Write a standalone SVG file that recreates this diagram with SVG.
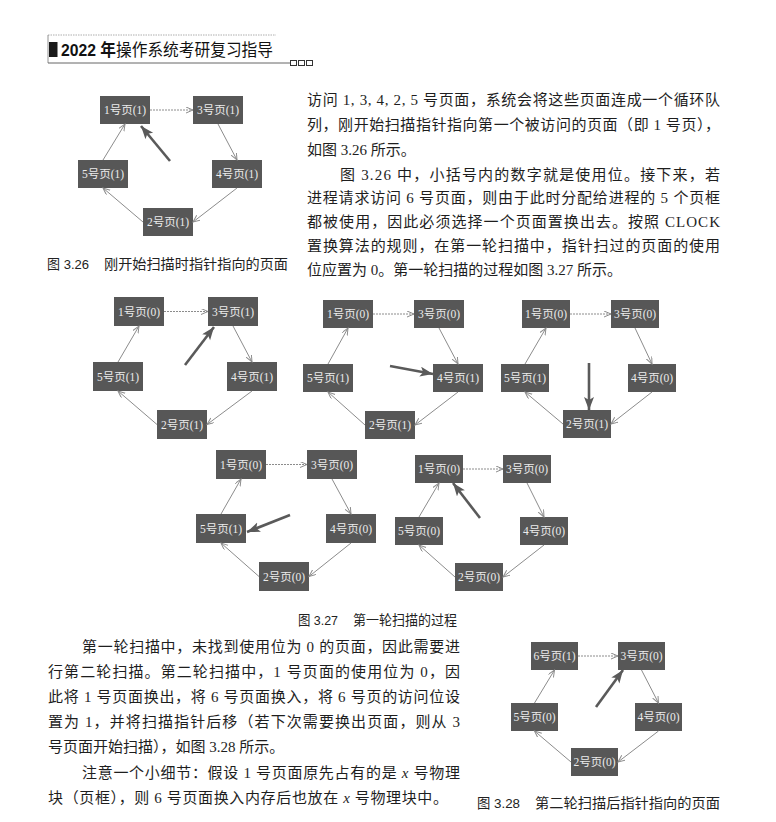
<svg xmlns="http://www.w3.org/2000/svg" width="776" height="822" viewBox="0 0 776 822">
<style>
.bg{fill:#ffffff}
.nd rect{fill:#575757}
.nd text{fill:#ececec;font-family:"Liberation Serif","Noto Sans CJK SC",serif;font-size:11.5px;text-anchor:middle}
.cn{stroke:#8c8c8c;stroke-width:1;fill:none;marker-end:url(#arr)}
.cn1{stroke-dasharray:2 1}
.ptr{stroke:#5a5a5a;stroke-width:2.6;fill:none;marker-end:url(#ptrh)}
.body{font-family:"Liberation Serif","Noto Sans CJK SC",serif;font-size:15px;fill:#1e1e1e}
.cap{font-family:"Liberation Sans","Noto Sans CJK SC",sans-serif;font-size:13.5px;fill:#222}
.hd{font-family:"Liberation Sans","Noto Sans CJK SC",sans-serif;font-size:16.5px;fill:#111}
</style>
<defs>
<marker id="arr" markerUnits="userSpaceOnUse" markerWidth="10" markerHeight="8" refX="7" refY="3" orient="auto">
<path d="M0,0 L7,3 L0,6" stroke="#8c8c8c" stroke-width="1" fill="none"/>
</marker>
<marker id="ptrh" markerUnits="userSpaceOnUse" markerWidth="16" markerHeight="12" refX="13" refY="5" orient="auto">
<path d="M0,0 L13,5 L0,10 L3,5 Z" fill="#5a5a5a"/>
</marker>
</defs>
<rect class="bg" x="0" y="0" width="776" height="822"/>

<!-- header -->
<g id="header">
<line x1="48" y1="35" x2="276" y2="35" stroke="#999" stroke-width="0.8" stroke-dasharray="1.5 1"/>
<line x1="48" y1="35" x2="48" y2="63" stroke="#777" stroke-width="0.8"/>
<line x1="48" y1="63" x2="290" y2="63" stroke="#555" stroke-width="0.9"/>
<rect x="49" y="42" width="8.5" height="15" fill="#1a1a1a"/>
<text class="hd" x="61" y="56" textLength="212" lengthAdjust="spacingAndGlyphs"><tspan font-weight="bold">2022 年</tspan>操作系统考研复习指导</text>
<rect x="290.5" y="60.5" width="6" height="5" fill="none" stroke="#333" stroke-width="1"/>
<rect x="298.5" y="60.5" width="6" height="5" fill="none" stroke="#333" stroke-width="1"/>
<rect x="306.5" y="60.5" width="6" height="5" fill="none" stroke="#333" stroke-width="1"/>
</g>

<!-- Figure 3.26 -->
<g id="fig326">
<g id="f326-n1" class="nd"><rect x="100" y="96" width="50" height="28"/><text x="125" y="114">1号页(1)</text></g>
<g id="f326-n3" class="nd"><rect x="193" y="96" width="50" height="28"/><text x="218" y="114">3号页(1)</text></g>
<g id="f326-n5" class="nd"><rect x="78" y="160" width="50" height="28"/><text x="103" y="178">5号页(1)</text></g>
<g id="f326-n4" class="nd"><rect x="212" y="160" width="50" height="28"/><text x="237" y="178">4号页(1)</text></g>
<g id="f326-n2" class="nd"><rect x="143" y="208" width="50" height="28"/><text x="168" y="226">2号页(1)</text></g>
<g id="f326-edges">
<line class="cn cn1" x1="150" y1="110" x2="193" y2="110"/>
<line class="cn" x1="218" y1="124" x2="237" y2="160"/>
<line class="cn" x1="237" y1="188" x2="193" y2="222"/>
<line class="cn" x1="143" y1="222" x2="103" y2="188"/>
<line class="cn" x1="103" y1="160" x2="125" y2="124"/>
<line class="ptr" x1="170" y1="161" x2="141" y2="126"/>
</g>
<text class="cap" y="269"><tspan x="47" textLength="42" lengthAdjust="spacingAndGlyphs">图 3.26</tspan><tspan x="104" textLength="184" lengthAdjust="spacingAndGlyphs">刚开始扫描时指针指向的页面</tspan></text>
</g>

<!-- right text block -->
<g id="text-top" class="body">
<text x="307" y="105" textLength="413" lengthAdjust="spacing">访问 1, 3, 4, 2, 5 号页面，系统会将这些页面连成一个循环队</text>
<text x="307" y="130" textLength="413" lengthAdjust="spacing">列，刚开始扫描指针指向第一个被访问的页面（即 1 号页），</text>
<text x="307" y="155">如图 3.26 所示。</text>
<text x="340" y="180" textLength="380" lengthAdjust="spacing">图 3.26 中，小括号内的数字就是使用位。接下来，若</text>
<text x="307" y="203" textLength="413" lengthAdjust="spacing">进程请求访问 6 号页面，则由于此时分配给进程的 5 个页框</text>
<text x="307" y="227" textLength="413" lengthAdjust="spacing">都被使用，因此必须选择一个页面置换出去。按照 CLOCK</text>
<text x="307" y="251" textLength="413" lengthAdjust="spacing">置换算法的规则，在第一轮扫描中，指针扫过的页面的使用</text>
<text x="307" y="275">位应置为 0。第一轮扫描的过程如图 3.27 所示。</text>
</g>

<!-- Figure 3.27 A -->
<g id="fig327a">
<g id="a-n1" class="nd"><rect x="114" y="297" width="50" height="29"/><text x="139" y="315.5">1号页(0)</text></g>
<g id="a-n3" class="nd"><rect x="208" y="297" width="50" height="29"/><text x="233" y="315.5">3号页(1)</text></g>
<g id="a-n5" class="nd"><rect x="93" y="362" width="50" height="29"/><text x="118" y="380.5">5号页(1)</text></g>
<g id="a-n4" class="nd"><rect x="227" y="362" width="50" height="29"/><text x="252" y="380.5">4号页(1)</text></g>
<g id="a-n2" class="nd"><rect x="157" y="410" width="50" height="29"/><text x="182" y="428.5">2号页(1)</text></g>
<g id="a-edges">
<line class="cn cn1" x1="164" y1="311.5" x2="208" y2="311.5"/>
<line class="cn" x1="233" y1="326" x2="252" y2="362"/>
<line class="cn" x1="252" y1="391" x2="207" y2="424.5"/>
<line class="cn" x1="157" y1="424.5" x2="118" y2="391"/>
<line class="cn" x1="118" y1="362" x2="139" y2="326"/>
<line class="ptr" x1="185" y1="365" x2="214" y2="327"/>
</g>
</g>

<!-- Figure 3.27 B -->
<g id="fig327b">
<g id="b-n1" class="nd"><rect x="323" y="300" width="50" height="28"/><text x="348" y="318">1号页(0)</text></g>
<g id="b-n3" class="nd"><rect x="414" y="300" width="50" height="28"/><text x="439" y="318">3号页(0)</text></g>
<g id="b-n5" class="nd"><rect x="303" y="364" width="50" height="28"/><text x="328" y="382">5号页(1)</text></g>
<g id="b-n4" class="nd"><rect x="433" y="364" width="50" height="28"/><text x="458" y="382">4号页(1)</text></g>
<g id="b-n2" class="nd"><rect x="365" y="411" width="50" height="28"/><text x="390" y="429">2号页(1)</text></g>
<g id="b-edges">
<line class="cn cn1" x1="373" y1="314" x2="414" y2="314"/>
<line class="cn" x1="439" y1="328" x2="458" y2="364"/>
<line class="cn" x1="458" y1="392" x2="415" y2="425"/>
<line class="cn" x1="365" y1="425" x2="328" y2="392"/>
<line class="cn" x1="328" y1="364" x2="348" y2="328"/>
<line class="ptr" x1="390" y1="366" x2="433" y2="374"/>
</g>
</g>

<!-- Figure 3.27 C -->
<g id="fig327c">
<g id="c-n1" class="nd"><rect x="522" y="300" width="48" height="28"/><text x="546" y="318">1号页(0)</text></g>
<g id="c-n3" class="nd"><rect x="611" y="300" width="48" height="28"/><text x="635" y="318">3号页(0)</text></g>
<g id="c-n5" class="nd"><rect x="501" y="364" width="48" height="28"/><text x="525" y="382">5号页(1)</text></g>
<g id="c-n4" class="nd"><rect x="628" y="364" width="48" height="28"/><text x="652" y="382">4号页(0)</text></g>
<g id="c-n2" class="nd"><rect x="563" y="410" width="48" height="28"/><text x="587" y="428">2号页(1)</text></g>
<g id="c-edges">
<line class="cn cn1" x1="570" y1="314" x2="611" y2="314"/>
<line class="cn" x1="635" y1="328" x2="652" y2="364"/>
<line class="cn" x1="652" y1="392" x2="611" y2="424"/>
<line class="cn" x1="563" y1="424" x2="525" y2="392"/>
<line class="cn" x1="525" y1="364" x2="546" y2="328"/>
<line class="ptr" x1="589" y1="363" x2="589" y2="410"/>
</g>
</g>

<!-- Figure 3.27 D -->
<g id="fig327d">
<g id="d-n1" class="nd"><rect x="216" y="450" width="50" height="29"/><text x="241" y="468.5">1号页(0)</text></g>
<g id="d-n3" class="nd"><rect x="307" y="450" width="50" height="29"/><text x="332" y="468.5">3号页(0)</text></g>
<g id="d-n5" class="nd"><rect x="196" y="514" width="50" height="29"/><text x="221" y="532.5">5号页(1)</text></g>
<g id="d-n4" class="nd"><rect x="326" y="514" width="50" height="29"/><text x="351" y="532.5">4号页(0)</text></g>
<g id="d-n2" class="nd"><rect x="259" y="562" width="50" height="29"/><text x="284" y="580.5">2号页(0)</text></g>
<g id="d-edges">
<line class="cn cn1" x1="266" y1="464.5" x2="307" y2="464.5"/>
<line class="cn" x1="332" y1="479" x2="351" y2="514"/>
<line class="cn" x1="351" y1="543" x2="309" y2="576.5"/>
<line class="cn" x1="259" y1="576.5" x2="221" y2="543"/>
<line class="cn" x1="221" y1="514" x2="241" y2="479"/>
<line class="ptr" x1="290" y1="515" x2="247" y2="532"/>
</g>
</g>

<!-- Figure 3.27 E -->
<g id="fig327e">
<g id="e-n1" class="nd"><rect x="415" y="455" width="48" height="28"/><text x="439" y="473">1号页(0)</text></g>
<g id="e-n3" class="nd"><rect x="503" y="455" width="48" height="28"/><text x="527" y="473">3号页(0)</text></g>
<g id="e-n5" class="nd"><rect x="395" y="517" width="48" height="28"/><text x="419" y="535">5号页(0)</text></g>
<g id="e-n4" class="nd"><rect x="520" y="517" width="48" height="28"/><text x="544" y="535">4号页(0)</text></g>
<g id="e-n2" class="nd"><rect x="455" y="563" width="48" height="28"/><text x="479" y="581">2号页(0)</text></g>
<g id="e-edges">
<line class="cn cn1" x1="463" y1="469" x2="503" y2="469"/>
<line class="cn" x1="527" y1="483" x2="544" y2="517"/>
<line class="cn" x1="544" y1="545" x2="503" y2="577"/>
<line class="cn" x1="455" y1="577" x2="419" y2="545"/>
<line class="cn" x1="419" y1="517" x2="439" y2="483"/>
<line class="ptr" x1="480" y1="518" x2="453" y2="483"/>
</g>
</g>
<text class="cap" y="625"><tspan x="298" textLength="40" lengthAdjust="spacingAndGlyphs">图 3.27</tspan><tspan x="353" textLength="104" lengthAdjust="spacingAndGlyphs">第一轮扫描的过程</tspan></text>

<!-- bottom text -->
<g id="text-bottom" class="body">
<text x="82" y="652" textLength="378" lengthAdjust="spacing">第一轮扫描中，未找到使用位为 0 的页面，因此需要进</text>
<text x="48" y="677" textLength="412" lengthAdjust="spacing">行第二轮扫描。第二轮扫描中，1 号页面的使用位为 0，因</text>
<text x="48" y="702" textLength="412" lengthAdjust="spacing">此将 1 号页面换出，将 6 号页面换入，将 6 号页的访问位设</text>
<text x="48" y="727" textLength="412" lengthAdjust="spacing">置为 1，并将扫描指针后移（若下次需要换出页面，则从 3</text>
<text x="48" y="752">号页面开始扫描），如图 3.28 所示。</text>
<text x="82" y="778" textLength="378" lengthAdjust="spacing">注意一个小细节：假设 1 号页面原先占有的是 <tspan font-style="italic">x</tspan> 号物理</text>
<text x="48" y="803" textLength="400" lengthAdjust="spacing">块（页框），则 6 号页面换入内存后也放在 <tspan font-style="italic">x</tspan> 号物理块中。</text>
</g>

<!-- Figure 3.28 -->
<g id="fig328">
<g id="g-n6" class="nd"><rect x="531" y="642" width="47" height="28"/><text x="554.5" y="660">6号页(1)</text></g>
<g id="g-n3" class="nd"><rect x="618" y="642" width="47" height="28"/><text x="641.5" y="660">3号页(0)</text></g>
<g id="g-n5" class="nd"><rect x="511" y="703" width="47" height="28"/><text x="534.5" y="721">5号页(0)</text></g>
<g id="g-n4" class="nd"><rect x="635" y="703" width="47" height="28"/><text x="658.5" y="721">4号页(0)</text></g>
<g id="g-n2" class="nd"><rect x="571" y="748" width="47" height="28"/><text x="594.5" y="766">2号页(0)</text></g>
<g id="g-edges">
<line class="cn cn1" x1="578" y1="656" x2="618" y2="656"/>
<line class="cn" x1="641.5" y1="670" x2="658.5" y2="703"/>
<line class="cn" x1="658.5" y1="731" x2="618" y2="762"/>
<line class="cn" x1="571" y1="762" x2="534.5" y2="731"/>
<line class="cn" x1="534.5" y1="703" x2="554.5" y2="670"/>
<line class="ptr" x1="596" y1="707" x2="623" y2="670"/>
</g>
<text class="cap" y="808"><tspan x="477" textLength="43" lengthAdjust="spacingAndGlyphs">图 3.28</tspan><tspan x="535" textLength="185" lengthAdjust="spacingAndGlyphs">第二轮扫描后指针指向的页面</tspan></text>
</g>
</svg>
